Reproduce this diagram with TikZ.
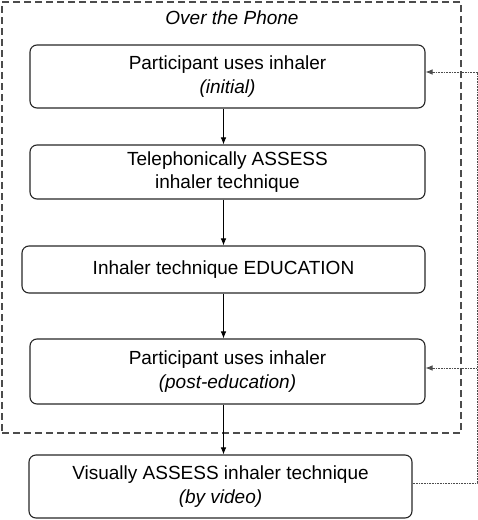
\documentclass[tikz,border=0pt]{standalone}
\usepackage{fontspec}
\setmainfont{Liberation Sans}
\usetikzlibrary{arrows.meta}
\begin{document}
\begin{tikzpicture}[x=1pt,y=-1pt,
  stepbox/.style={draw=black!85, line width=1.1pt, rounded corners=7pt, align=center,
    inner sep=0pt, font=\fontsize{19}{23.5}\selectfont},
  arr/.style={draw=black, line width=0.8pt, -{Latex[length=7pt,width=5.5pt]}},
  fb/.style={draw=black!70, line width=0.8pt, dash pattern=on 1pt off 0.6pt},
  fbarr/.style={fb, -{Latex[length=7pt,width=5.5pt]}},
  phonebox/.style={draw=black!70, line width=1.2pt, dash pattern=on 7pt off 4pt}
]
\useasboundingbox (0,0) rectangle (478,520);
\node[phonebox, minimum width=459pt, minimum height=431pt, inner sep=0pt] (phone) at (231.5,217.5) {};
\node[font=\fontsize{19}{23.5}\selectfont\itshape] (title) at (232,18) {Over the Phone};

\node[stepbox, minimum width=395pt, minimum height=63pt] (b1) at (227.5,76.5)
  {Participant uses inhaler\\\textit{(initial)}};
\node[stepbox, minimum width=395pt, minimum height=54pt] (b2) at (227.5,172)
  {Telephonically ASSESS\\inhaler technique};
\node[stepbox, minimum width=403pt, minimum height=47pt] (b3) at (223.5,269.5)
  {Inhaler technique EDUCATION};
\node[stepbox, minimum width=395pt, minimum height=65pt] (b4) at (227.5,371.5)
  {Participant uses inhaler\\\textit{(post-education)}};
\node[stepbox, minimum width=383pt, minimum height=63pt] (b5) at (220.5,486.5)
  {Visually ASSESS inhaler technique\\\textit{(by video)}};

\draw[arr] (b1.south -| b3.center) -- (b2.north -| b3.center);
\draw[arr] (b2.south -| b3.center) -- (b3.north);
\draw[arr] (b3.south) -- (b4.north -| b3.center);
\draw[arr] (b4.south -| b3.center) -- (b5.north -| b3.center);

\coordinate (r5) at (477,483);
\coordinate (r4) at (477,368);
\coordinate (r1) at (477,72);
\draw[fb] ([yshift=3.5pt]b5.east) -- (r5) -- (r1);
\draw[fbarr] (r1) -- ([yshift=4.5pt]b1.east);
\draw[fbarr] (r4) -- ([yshift=3.5pt]b4.east);
\end{tikzpicture}
\end{document}
